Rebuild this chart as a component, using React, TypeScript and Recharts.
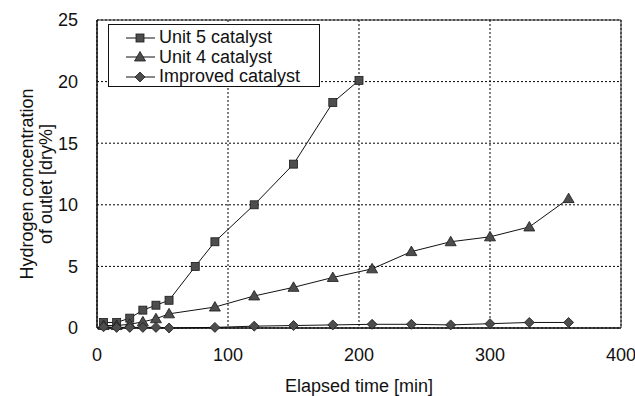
import React from "react";
import {
  LineChart,
  Line,
  XAxis,
  YAxis,
  CartesianGrid,
  Legend,
  ReferenceArea,
} from "recharts";

const unit5Times = [5, 15, 25, 35, 45, 55, 75, 90, 120, 150, 180, 200];
const unit5Values = [0.45, 0.45, 0.8, 1.45, 1.85, 2.25, 5.0, 7.0, 10.0, 13.3, 18.3, 20.1];

const unit4Times = [5, 15, 25, 35, 45, 55, 90, 120, 150, 180, 210, 240, 270, 300, 330, 360];
const unit4Values = [0.2, 0.2, 0.3, 0.5, 0.75, 1.15, 1.7, 2.6, 3.3, 4.1, 4.8, 6.2, 7.0, 7.4, 8.2, 10.5];

const improvedTimes = [5, 15, 25, 35, 45, 55, 90, 120, 150, 180, 210, 240, 270, 300, 330, 360];
const improvedValues = [0.1, 0.05, 0.05, 0.05, 0.05, 0.0, 0.05, 0.15, 0.2, 0.25, 0.3, 0.3, 0.25, 0.35, 0.45, 0.45];

const xTicks = [0, 100, 200, 300, 400];
const yTicks = [0, 5, 10, 15, 20, 25];

const seriesNames = ["Unit 5 catalyst", "Unit 4 catalyst", "Improved catalyst"];

const toPoints = (xs: number[], ys: number[]) => xs.map((x, i) => ({ x, y: ys[i] }));

const unit5Data = toPoints(unit5Times, unit5Values);
const unit4Data = toPoints(unit4Times, unit4Values);
const improvedData = toPoints(improvedTimes, improvedValues);

const FONT = "'Liberation Sans', Arial, sans-serif";
const FILL = "#4d4d4d";
const EDGE = "#1a1a1a";

function Marker({ kind, cx, cy }: { kind: string; cx: number; cy: number }) {
  if (kind === "square") {
    return <rect x={cx - 4} y={cy - 4} width={8} height={8} fill={FILL} stroke={EDGE} strokeWidth={0.8} />;
  }
  if (kind === "triangle") {
    return (
      <polygon
        points={`${cx},${cy - 5.5} ${cx + 5.5},${cy + 4} ${cx - 5.5},${cy + 4}`}
        fill={FILL}
        stroke={EDGE}
        strokeWidth={0.8}
      />
    );
  }
  return (
    <polygon
      points={`${cx},${cy - 5} ${cx + 5},${cy} ${cx},${cy + 5} ${cx - 5},${cy}`}
      fill={FILL}
      stroke={EDGE}
      strokeWidth={0.8}
    />
  );
}

const kinds = ["square", "triangle", "diamond"];

const dot = (kind: string) => (p: any) => (
  <Marker key={`${kind}-${p.index}`} kind={kind} cx={p.cx} cy={p.cy} />
);

function LegendBox() {
  return (
    <div
      style={{
        width: 212,
        height: 63,
        border: "1px solid #111",
        background: "#fff",
        fontFamily: FONT,
        fontSize: 18,
        color: "#111",
        boxSizing: "border-box",
        paddingTop: 3,
      }}
    >
      {seriesNames.map((name, i) => (
        <div key={name} style={{ display: "flex", alignItems: "center", height: 19.5, lineHeight: "19px" }}>
          <svg width={48} height={14} style={{ marginLeft: 14 }}>
            <line x1={3} y1={7} x2={32} y2={7} stroke="#111" strokeWidth={1} />
            <Marker kind={kinds[i]} cx={17} cy={7} />
          </svg>
          <span style={{ marginLeft: -12 }}>{name}</span>
        </div>
      ))}
    </div>
  );
}

function YTitle(props: any) {
  const cy = 184;
  return (
    <text
      transform={`rotate(-90, 0, 0)`}
      fontFamily={FONT}
      fontSize={18}
      fill="#111"
      textAnchor="middle"
    >
      <tspan x={-cy} y={33}>Hydrogen concentration</tspan>
      <tspan x={-cy} y={52}>of outlet [dry%]</tspan>
    </text>
  );
}

export default function App() {
  return (
    <div style={{ position: "absolute", left: 0, top: 0, width: 635, height: 396, background: "#fff" }}>
      <LineChart width={635} height={396} margin={{ top: 20, right: 14, left: 0, bottom: 0 }}>
        <CartesianGrid stroke="#000" strokeDasharray="2 2" strokeWidth={1} />
        <XAxis
          type="number"
          dataKey="x"
          domain={[0, 400]}
          ticks={xTicks}
          height={68}
          tickSize={0}
          tickMargin={20}
          axisLine={{ stroke: "#000" }}
          tickLine={false}
          tick={{ fill: "#111", fontSize: 18, fontFamily: FONT }}
          label={{
            value: "Elapsed time [min]",
            position: "insideBottom",
            offset: 4,
            fill: "#111",
            fontSize: 18,
            fontFamily: FONT,
          }}
        />
        <YAxis
          type="number"
          dataKey="y"
          domain={[0, 25]}
          ticks={yTicks}
          width={97}
          tickSize={0}
          tickMargin={19}
          axisLine={{ stroke: "#000" }}
          tickLine={false}
          tick={{ fill: "#111", fontSize: 18, fontFamily: FONT }}
          label={<YTitle />}
        />
        <ReferenceArea x1={0} x2={400} y1={0} y2={25} fill="none" stroke="#222" strokeWidth={1} ifOverflow="visible" />
        <Line
          data={unit5Data}
          dataKey="y"
          name={seriesNames[0]}
          stroke="#111"
          strokeWidth={1}
          dot={dot("square")}
          activeDot={false}
          isAnimationActive={false}
        />
        <Line
          data={unit4Data}
          dataKey="y"
          name={seriesNames[1]}
          stroke="#111"
          strokeWidth={1}
          dot={dot("triangle")}
          activeDot={false}
          isAnimationActive={false}
        />
        <Line
          data={improvedData}
          dataKey="y"
          name={seriesNames[2]}
          stroke="#111"
          strokeWidth={1}
          dot={dot("diamond")}
          activeDot={false}
          isAnimationActive={false}
        />
        <Legend
          layout="vertical"
          align="center"
          verticalAlign="middle"
          content={() => <LegendBox />}
          wrapperStyle={{ left: 108, top: 24, width: 214, height: 65 }}
        />
      </LineChart>
    </div>
  );
}
